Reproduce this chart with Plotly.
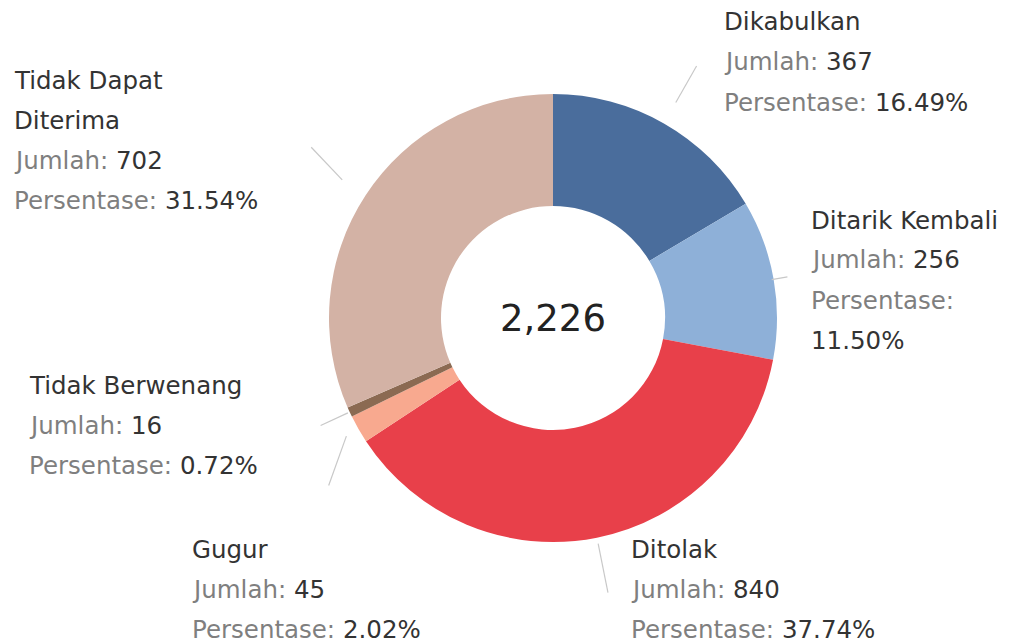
import numpy as np
import plotly.graph_objects as go

# ── data ──────────────────────────────────────────────────────────────────────
labels = ["Dikabulkan", "Ditarik Kembali", "Ditolak", "Gugur",
          "Tidak Berwenang", "Tidak Dapat Diterima"]
values = [367, 256, 840, 45, 16, 702]
percents = ["16.49%", "11.50%", "37.74%", "2.02%", "0.72%", "31.54%"]
colors = ["#4a6d9c", "#8eb0d8", "#e8404a", "#f8a98f", "#8b6a52", "#d3b2a5"]

W, H = 1014, 644
OFF = 8                            # page body margin in the browser
CX, CY, R = 553, 318, 224          # donut centre / radius in page pixels
FONT = "DejaVu Sans"
DARK, GREY = "#333333", "#7f7f7f"


def px(x, y):
    """page pixel -> paper coords"""
    return (x - OFF) / W, 1 - (y - OFF) / H


def val(v):
    return f"<span style='color:{DARK}'>{v}</span>"


# label blocks: (left x px, first-line y px, lines)
blocks = {
    "Dikabulkan":           (725, 22,  ["Dikabulkan", "Jumlah: " + val(values[0]),
                                        "Persentase: " + val(percents[0])]),
    "Ditarik Kembali":      (812, 220, ["Ditarik Kembali", "Jumlah: " + val(values[1]),
                                        "Persentase:", val(percents[1])]),
    "Ditolak":              (632, 549, ["Ditolak", "Jumlah: " + val(values[2]),
                                        "Persentase: " + val(percents[2])]),
    "Gugur":                (193, 549, ["Gugur", "Jumlah: " + val(values[3]),
                                        "Persentase: " + val(percents[3])]),
    "Tidak Berwenang":      (30, 385,  ["Tidak Berwenang", "Jumlah: " + val(values[4]),
                                        "Persentase: " + val(percents[4])]),
    "Tidak Dapat Diterima": (15, 80,   ["Tidak Dapat", "Diterima", "Jumlah: " + val(values[5]),
                                        "Persentase: " + val(percents[5])]),
}
# leader lines: (inner r, outer r, outer angle offset in degrees)
leader = {
    "Dikabulkan": (248, 290, 0), "Ditarik Kembali": (222, 238, 0),
    "Ditolak": (230, 280, 0), "Gugur": (238, 280, -7),
    "Tidak Berwenang": (226, 256, 0), "Tidak Dapat Diterima": (252, 296, 2),
}

x_lo, y_lo = px(CX - R, CY + R)
x_hi, y_hi = px(CX + R, CY - R)
fig = go.Figure(go.Pie(
    labels=labels, values=values, sort=False, direction="clockwise",
    rotation=0, hole=0.5, textinfo="none", hoverinfo="label+value+percent",
    marker=dict(colors=colors, line=dict(width=0)),
    domain=dict(x=[x_lo, x_hi], y=[y_lo, y_hi]),
    showlegend=False,
))

cx, cy = px(CX, CY)
annotations = [dict(
    x=cx, y=cy, xref="paper", yref="paper", showarrow=False,
    text="2,226", font=dict(family=FONT, size=37, color="#222222"),
)]
shapes = []

total = sum(values)
cum = np.cumsum([0] + values)
for i, name in enumerate(labels):
    x0, y0, lines = blocks[name]
    for j, line in enumerate(lines):
        first = j == 0 or (name == "Tidak Dapat Diterima" and j == 1)
        ax, ay = px(x0 - 3, y0 + 40 * j)
        annotations.append(dict(
            x=ax, y=ay, xref="paper", yref="paper",
            xanchor="left", yanchor="middle", showarrow=False, text=line,
            font=dict(family=FONT, size=24.5, color=DARK if first else GREY),
        ))
    # leader line along the slice's mid-angle
    mid = (cum[i] + values[i] / 2) / total * 360
    r1, r2, da = leader[name]
    a1, a2 = np.deg2rad(mid), np.deg2rad(mid + da)
    lx0, ly0 = px(CX + r1 * np.sin(a1), CY - r1 * np.cos(a1))
    lx1, ly1 = px(CX + r2 * np.sin(a2), CY - r2 * np.cos(a2))
    shapes.append(dict(
        type="line", xref="paper", yref="paper",
        x0=lx0, y0=ly0, x1=lx1, y1=ly1,
        line=dict(color="#c8c8c8", width=1.2),
    ))

fig.update_layout(
    width=W, height=H, margin=dict(l=0, r=0, t=0, b=0),
    paper_bgcolor="white", plot_bgcolor="white",
    annotations=annotations, shapes=shapes,
)

fig.write_html("out.html")
